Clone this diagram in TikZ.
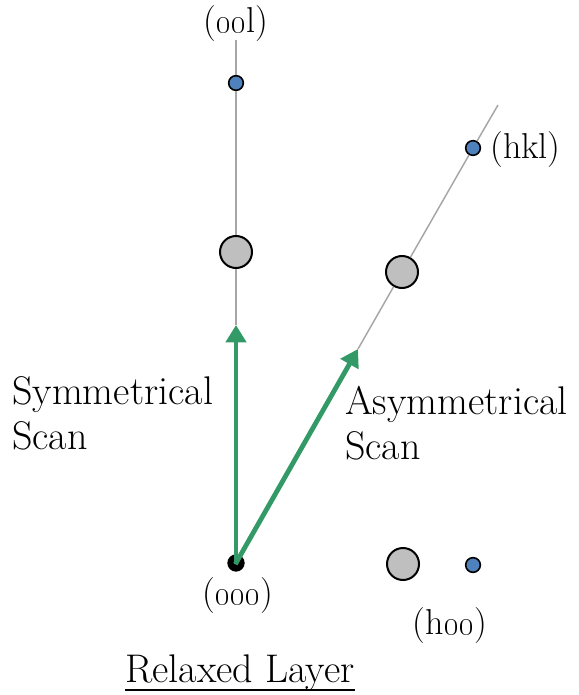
\documentclass[tikz,border=0pt]{standalone}
\usetikzlibrary{arrows.meta}

\definecolor{scangreen}{RGB}{51,153,102}
\definecolor{spotblue}{RGB}{79,129,189}
\definecolor{spotgray}{RGB}{191,191,191}
\definecolor{rodgray}{RGB}{166,166,166}

\tikzset{
  rod/.style={draw=rodgray,line width=1.1pt},
  scan/.style={draw=scangreen,line width=3.6pt,
    -{Triangle[length=13pt,width=15pt]},shorten <=-1pt},
  bigspot/.style={circle,draw=black,line width=1.5pt,fill=spotgray,
    minimum size=24pt,inner sep=0pt},
  smallspot/.style={circle,draw=black,line width=1.2pt,fill=spotblue,
    minimum size=11pt,inner sep=0pt},
  label/.style={font=\fontsize{27}{32}\selectfont,inner sep=0pt},
  scantext/.style={font=\fontsize{30}{34}\selectfont,align=left,inner sep=0pt}
}

\begin{document}
\begin{tikzpicture}[x=0.75pt,y=-0.75pt]
  \useasboundingbox (0,0) rectangle (578,695);

  % origin of reciprocal space
  \node (O) at (236,563) [circle,fill=black,minimum size=13pt,inner sep=0pt] {};

  % specular rod (00l)
  \coordinate (TOPV) at (236,40);
  \coordinate (TIPV) at (236,325);
  \node (S1) at (236,83)  [smallspot] {};
  \node (B1) at (236,252) [bigspot] {};
  \draw[rod] (TOPV) -- (S1) -- (B1) -- (TIPV);

  % off-specular rod (hkl)
  \coordinate (TOPD) at (498,105);
  \coordinate (TIPD) at (358,349);
  \node (S2) at (473,148) [smallspot] {};
  \node (B2) at (402,272) [bigspot] {};
  \draw[rod] (TOPD) -- (S2) -- (B2) -- (TIPD);

  % in-plane spots (h00)
  \node (B3) at (403,564) [bigspot] {};
  \node (S3) at (473,565) [smallspot] {};

  % scan directions
  \draw[scan] (O.center) -- (TIPV);
  \draw[scan] (O.center) -- (TIPD);

  % labels
  \node (L1) at (236,33)  [label,anchor=base] {(\oldstylenums{00}l)};
  \node (L2) at (490,159) [label,anchor=base west] {(hkl)};
  \node (L3) at (238,604) [label,anchor=base] {(\oldstylenums{000})};
  \node (L4) at (450,634) [label,anchor=base] {(h\oldstylenums{00})};

  \node (T1) at (12,376)  [scantext,anchor=north west] {Symmetrical\\Scan};
  \node (T2) at (345,386) [scantext,anchor=north west] {Asymmetrical\\Scan};

  \node (T3) at (240,682) [scantext,anchor=base] {Relaxed Layer};
  \draw[line width=1.6pt] ([yshift=-6pt]T3.base west) -- ([yshift=-6pt]T3.base east);
\end{tikzpicture}
\end{document}
